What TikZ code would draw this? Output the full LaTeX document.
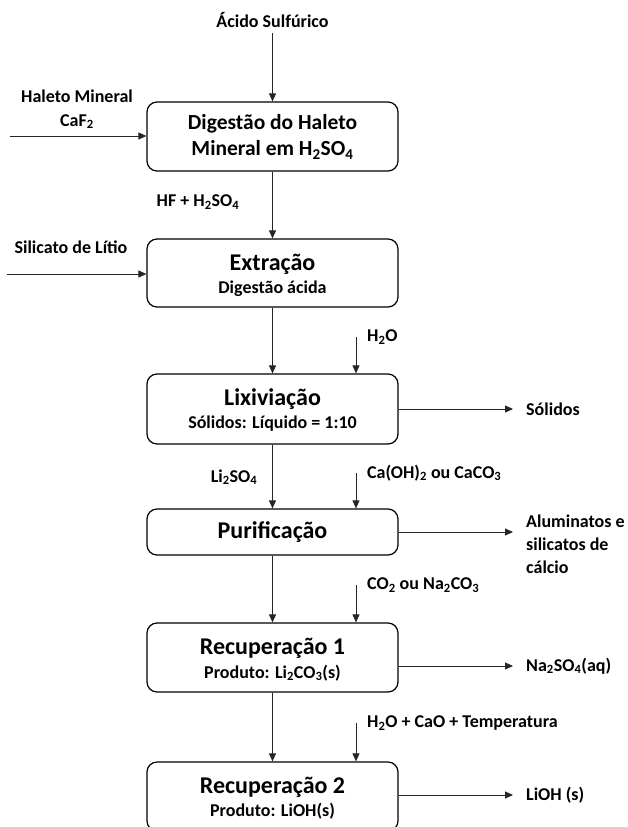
\documentclass[tikz,border=0pt]{standalone}
\usepackage{fontspec}
\setmainfont{Carlito}
\usetikzlibrary{arrows.meta}
\newcommand\chsub[1]{\textsubscript{#1}}
\tikzset{
  stage/.style={draw=black, line width=1.2pt, rounded corners=10pt, minimum width=251pt, inner sep=0pt},
  arr/.style={draw=black!85, line width=0.9pt, -{Triangle[length=8pt,width=7pt]}},
  title/.style={font=\fontsize{24}{27}\selectfont\bfseries, inner sep=0pt},
  title2/.style={font=\fontsize{21.5}{26}\selectfont\bfseries, inner sep=0pt},
  sub/.style={font=\fontsize{18}{21}\selectfont\bfseries, inner sep=0pt},
  lbl/.style={font=\fontsize{18}{24}\selectfont\bfseries, inner sep=0pt},
}
\begin{document}
\begin{tikzpicture}[x=1pt,y=-1pt]
\useasboundingbox[fill=white] (0,0) rectangle (628,827);

% process stages
\node[stage, minimum height=69pt] (b1) at (272.5,136.5) {};
\node[stage, minimum height=68pt] (b2) at (272.5,273) {};
\node[stage, minimum height=70pt] (b3) at (272.5,409) {};
\node[stage, minimum height=46pt] (b4) at (272.5,532) {};
\node[stage, minimum height=69pt] (b5) at (272.5,657.5) {};
\node[stage, minimum height=69pt] (b6) at (272.5,796.5) {};

% stage texts
\node[title2] (t1a) at (272.5,124) {Digestão do Haleto};
\node[title2] (t1b) at (272.5,150) {Mineral em H\chsub{2}SO\chsub{4}};
\node[title] (t2a) at (272.5,264) {Extração};
\node[sub]   (t2b) at (272.5,289) {Digestão ácida};
\node[title] (t3a) at (272.5,399) {Lixiviação};
\node[sub]   (t3b) at (272.5,424) {Sólidos: Líquido = 1:10};
\node[title] (t4a) at (272.5,532) {Purificação};
\node[title] (t5a) at (272.5,648) {Recuperação 1};
\node[sub]   (t5b) at (272.5,673) {Produto: Li\chsub{2}CO\chsub{3}(s)};
\node[title] (t6a) at (272.5,787) {Recuperação 2};
\node[sub]   (t6b) at (272.5,811) {Produto: LiOH(s)};

% feeds and labels
\node[lbl] (acido) at (272.5,20) {Ácido Sulfúrico};
\node[lbl, align=center] (haleto) at (77,109) {Haleto Mineral\\CaF\chsub{2}};
\node[lbl] (hf) at (198,202) {HF + H\chsub{2}SO\chsub{4}};
\node[lbl] (silicato) at (71,247) {Silicato de Lítio};
\node[lbl, anchor=west] (h2o) at (367,337) {H\chsub{2}O};
\node[lbl] (li2so4) at (234,477) {Li\chsub{2}SO\chsub{4}};
\node[lbl, anchor=west] (caoh) at (367,473) {Ca(OH)\chsub{2} ou CaCO\chsub{3}};
\node[lbl, anchor=west] (co2) at (367,585) {CO\chsub{2} ou Na\chsub{2}CO\chsub{3}};
\node[lbl, anchor=west] (cao) at (367,723) {H\chsub{2}O + CaO + Temperatura};

% outputs
\node[lbl, anchor=west] (solidos) at (526,409) {Sólidos};
\node[lbl, anchor=west, align=left, font=\fontsize{18}{23}\selectfont\bfseries] (alum) at (526,544) {Aluminatos e\\silicatos de\\cálcio};
\node[lbl, anchor=west] (na2so4) at (526,666) {Na\chsub{2}SO\chsub{4}(aq)};
\node[lbl, anchor=west] (lioh) at (526,795) {LiOH (s)};

% connector ends
\coordinate (acidoin) at (272.5,33);
\coordinate (haletoin) at (10,136);
\coordinate (silicatoin) at (7,274);
\coordinate (h2oin) at (356,337);
\coordinate (caohin) at (356,473);
\coordinate (co2in) at (356,585);
\coordinate (caoin) at (356,723);
\coordinate (solidosout) at (513,409);
\coordinate (alumout) at (513,532);
\coordinate (na2so4out) at (513,666);
\coordinate (liohout) at (513,795);

% main line
\draw[arr] (acidoin) -- (b1.north);
\draw[arr] (b1.south) -- (b2.north);
\draw[arr] (b2.south) -- (b3.north);
\draw[arr] (b3.south) -- (b4.north);
\draw[arr] (b4.south) -- (b5.north);
\draw[arr] (b5.south) -- (b6.north);

% side feeds
\draw[arr] (haletoin) -- (haletoin -| b1.west);
\draw[arr] (silicatoin) -- (silicatoin -| b2.west);
\draw[arr] (h2oin) -- (h2oin |- b3.north);
\draw[arr] (caohin) -- (caohin |- b4.north);
\draw[arr] (co2in) -- (co2in |- b5.north);
\draw[arr] (caoin) -- (caoin |- b6.north);

% products
\draw[arr] (solidosout -| b3.east) -- (solidosout);
\draw[arr] (alumout -| b4.east) -- (alumout);
\draw[arr] (na2so4out -| b5.east) -- (na2so4out);
\draw[arr] (liohout -| b6.east) -- (liohout);
\end{tikzpicture}
\end{document}
